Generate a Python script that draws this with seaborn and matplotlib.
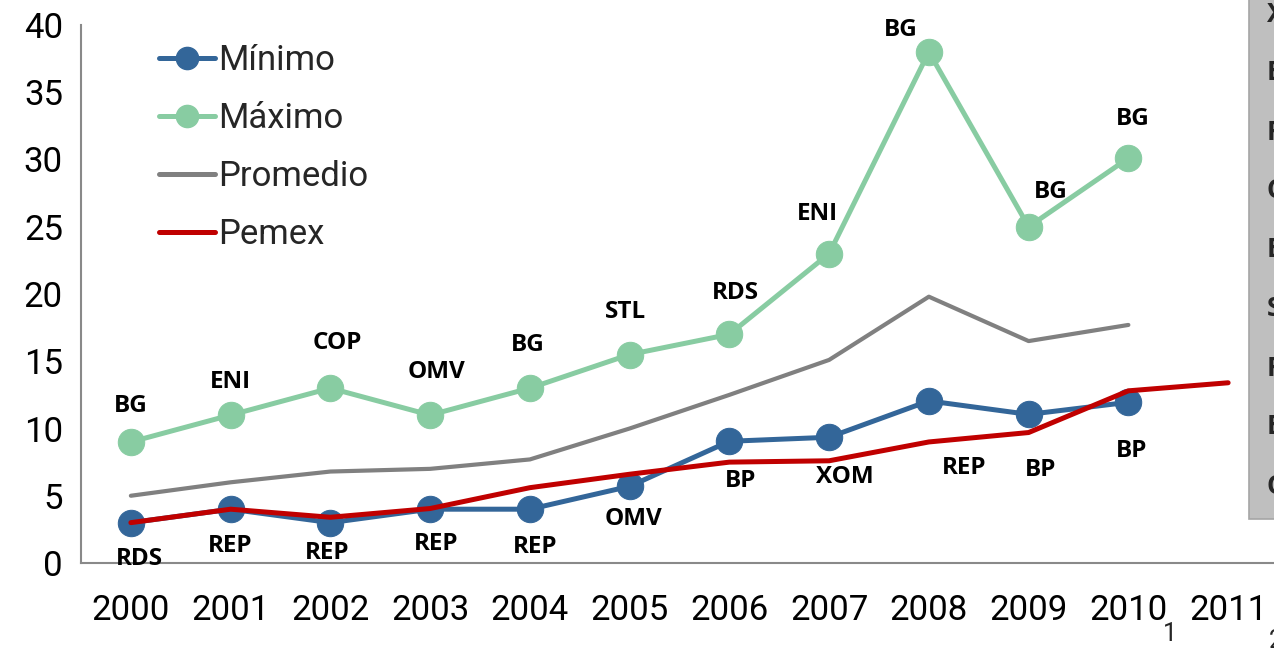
import matplotlib
matplotlib.use("Agg")
import matplotlib.pyplot as plt
import seaborn as sns
import numpy as np
import pandas as pd
from matplotlib.lines import Line2D
from matplotlib.patches import Rectangle

# datos
years = ["2000", "2001", "2002", "2003", "2004", "2005",
         "2006", "2007", "2008", "2009", "2010", "2011"]
minimo = [3.0, 4.0, 3.0, 4.0, 4.0, 5.7, 9.05, 9.35, 12.05, 11.05, 11.95]
maximo = [9.0, 11.0, 13.0, 11.0, 13.0, 15.5, 17.0, 23.0, 38.0, 25.0, 30.1]
promedio = [5.0, 6.0, 6.8, 7.0, 7.7, 10.0, 12.5, 15.1, 19.8, 16.5, 17.7]
pemex = [3.0, 4.0, 3.4, 4.05, 5.6, 6.6, 7.5, 7.6, 9.0, 9.7, 12.8, 13.4]
min_labels = ["RDS", "REP", "REP", "REP", "REP", "OMV", "BP", "XOM", "REP", "BP", "BP"]
max_labels = ["BG", "ENI", "COP", "OMV", "BG", "STL", "RDS", "ENI", "BG", "BG", "BG"]
side_labels = ["XOM", "BP", "RDS", "COP", "ENI", "STL", "REP", "BG", "OMV"]

# desplazamiento de las etiquetas (pixeles)
max_off = [(0, 36), (0, 33), (7, 45), (6, 43), (-2, 43), (-4, 43),
           (6, 41), (-12, 40), (-28, 22), (22, 35), (4, 39)]
min_off = [(9, -36), (0, -37), (-3, -30), (6, -35), (5, -38), (4, -33),
           (11, -40), (16, -40), (35, -67), (12, -56), (3, -49)]

BLUE = "#336699"
GREEN = "#88CCA2"
GREY = "#808080"
RED = "#C00000"

sns.set_style("white")
plt.rcParams["font.family"] = ["Roboto", "DejaVu Sans"]

fig = plt.figure(figsize=(12.74, 6.48), dpi=100)
W, H = 1274, 648
ax = fig.add_axes([81 / W, 85 / H, 1197 / W, 538 / H])

idx = np.arange(len(years))

sns.lineplot(x=idx[:len(promedio)], y=promedio, ax=ax, color=GREY, linewidth=3.0,
             label="Promedio", zorder=2)
sns.lineplot(x=idx[:len(maximo)], y=maximo, ax=ax, color=GREEN, linewidth=3.6,
             marker="o", markersize=19, markeredgecolor=GREEN, label="Máximo", zorder=3)
sns.lineplot(x=idx[:len(minimo)], y=minimo, ax=ax, color=BLUE, linewidth=3.6,
             marker="o", markersize=19, markeredgecolor=BLUE, label="Mínimo", zorder=4)
sns.lineplot(x=idx[:len(pemex)], y=pemex, ax=ax, color=RED, linewidth=3.6,
             label="Pemex", zorder=5)

lab_font = dict(family=["Open Sans", "DejaVu Sans"], fontsize=17.5, fontweight="bold",
                color="black", ha="center", va="center")
for i, (v, t) in enumerate(zip(maximo, max_labels)):
    ax.annotate(t, (i, v), xytext=max_off[i], textcoords="offset pixels", **lab_font)
for i, (v, t) in enumerate(zip(minimo, min_labels)):
    ax.annotate(t, (i, v), xytext=min_off[i], textcoords="offset pixels", **lab_font)

ax.set_xlim(-0.5, 11.5)
ax.set_ylim(0, 40)
ax.set_yticks(range(0, 41, 5))
ax.set_xticks(idx)
ax.set_xticklabels(years)
ax.set_xticks(np.arange(-0.5, 12, 1), minor=True)
ax.tick_params(axis="x", which="major", length=0, pad=22, labelsize=25, colors="black")
ax.tick_params(axis="x", which="minor", length=9, width=1.5, color="#898989", direction="out")
ax.tick_params(axis="y", length=8, width=1.5, color="#898989", direction="out",
               pad=5, labelsize=25, labelcolor="black")
ax.set_xlabel("")
ax.set_ylabel("")
for s in ["top", "right"]:
    ax.spines[s].set_visible(False)
for s in ["left", "bottom"]:
    ax.spines[s].set_color("#898989")
    ax.spines[s].set_linewidth(1.5)

handles = [
    Line2D([], [], color=BLUE, lw=3.6, marker="o", markersize=16, markeredgecolor=BLUE),
    Line2D([], [], color=GREEN, lw=3.6, marker="o", markersize=16, markeredgecolor=GREEN),
    Line2D([], [], color=GREY, lw=3.6),
    Line2D([], [], color=RED, lw=3.6),
]
ax.legend(handles, ["Mínimo", "Máximo", "Promedio", "Pemex"], loc="upper left",
          bbox_to_anchor=(0.045, 1.01), frameon=False, fontsize=25,
          handlelength=1.6, handletextpad=0.1, labelspacing=0.72, borderaxespad=0.3)

# recuadro gris a la derecha (cortado)
fig.patches.append(Rectangle((1249 / W, 129 / H), 40 / W, 530 / H, transform=fig.transFigure,
                             facecolor="#BFBFBF", edgecolor="#A5A5A5", lw=1.2, zorder=0))
for k, t in enumerate(side_labels):
    fig.text(1267 / W, 1 - (14 + 59 * k) / H, t, fontsize=19, fontweight="bold",
             family=["Open Sans", "DejaVu Sans"], va="center", ha="left")

fig.text(1170 / W, 1 - 634 / H, "1", fontsize=18, va="center", ha="center")
fig.text(1276 / W, 1 - 641 / H, "2", fontsize=18, va="center", ha="center")

fig.savefig("out.png", dpi=100)
